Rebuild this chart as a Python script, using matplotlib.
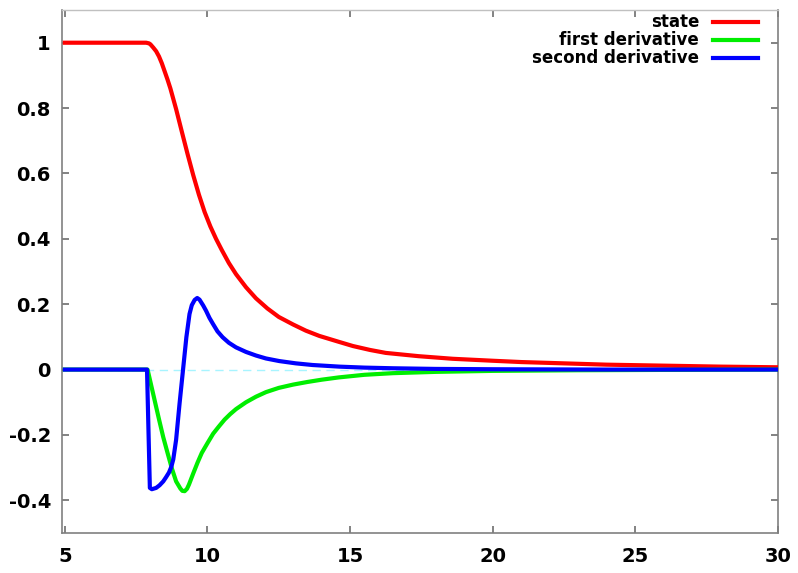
import matplotlib
matplotlib.use('Agg')
import matplotlib.pyplot as plt
from matplotlib.ticker import FuncFormatter

plt.rcParams['font.family'] = ['DejaVu Sans']
plt.rcParams['axes.unicode_minus'] = False

# values
state_t = [5.0, 7.85, 7.95, 8.0, 8.1, 8.2, 8.3, 8.4, 8.5, 8.6, 8.7, 8.9, 9.1,
           9.3, 9.5, 9.7, 9.9, 10.1, 10.3, 10.5, 10.75, 11.0, 11.35, 11.7,
           12.1, 12.5, 13.0, 13.45, 13.92, 14.6, 15.1, 15.7, 16.25, 17.4, 18.6,
           20.0, 21.0, 22.5, 24.0, 26.0, 28.0, 30.0]
state = [1.0, 1.0, 0.998, 0.995, 0.985, 0.974, 0.958, 0.937, 0.912, 0.887,
         0.86, 0.797, 0.728, 0.660, 0.595, 0.535, 0.482, 0.438, 0.400, 0.366,
         0.326, 0.292, 0.252, 0.218, 0.187, 0.161, 0.138, 0.119, 0.103, 0.085,
         0.072, 0.060, 0.051, 0.041, 0.033, 0.027, 0.023, 0.019, 0.015, 0.012,
         0.009, 0.007]

first_t = [5.0, 7.9, 8.0, 8.1, 8.2, 8.3, 8.45, 8.6, 8.75, 8.9, 9.05, 9.12,
           9.2, 9.28, 9.35, 9.5, 9.65, 9.8, 10.0, 10.2, 10.4, 10.6, 10.8, 11.0,
           11.35, 11.7, 12.05, 12.5, 13.0, 13.5, 14.0, 14.6, 15.5, 16.5, 18.0,
           20.0, 23.0, 26.0, 30.0]
first = [0.0, 0.0, -0.038, -0.076, -0.114, -0.152, -0.207, -0.255, -0.302,
         -0.342, -0.364, -0.371, -0.372, -0.365, -0.352, -0.318, -0.285,
         -0.255, -0.225, -0.196, -0.174, -0.153, -0.136, -0.121, -0.100,
         -0.083, -0.069, -0.056, -0.046, -0.038, -0.031, -0.024, -0.016,
         -0.011, -0.007, -0.004, -0.002, -0.001, 0.0]

second_t = [5.0, 7.88, 7.98, 8.05, 8.2, 8.32, 8.45, 8.55, 8.65, 8.73, 8.8,
            8.9, 9.02, 9.14, 9.26, 9.37, 9.45, 9.55, 9.64, 9.72, 9.85, 9.95,
            10.07, 10.19, 10.35, 10.53, 10.75, 11.0, 11.35, 11.7, 12.05,
            12.52, 13.1, 13.68, 14.62, 15.5, 16.5, 18.0, 20.0, 24.0, 30.0]
second = [0.0, 0.0, -0.362, -0.366, -0.362, -0.354, -0.342, -0.329, -0.315,
          -0.298, -0.275, -0.215, -0.105, -0.003, 0.099, 0.170, 0.197, 0.213,
          0.219, 0.214, 0.196, 0.180, 0.158, 0.140, 0.117, 0.099, 0.082,
          0.068, 0.054, 0.043, 0.034, 0.026, 0.019, 0.014, 0.009, 0.006,
          0.004, 0.002, 0.001, 0.0, 0.0]

labels = ['state', 'first derivative', 'second derivative']
colors = ['#ff0000', '#00ee00', '#0000ff']

fig = plt.figure(figsize=(7.98, 5.73), dpi=100)
ax = fig.add_axes([0.0777, 0.0698, 0.8972, 0.9127])

ax.axhline(0, color='#a8f4ff', lw=1.0, ls=(0, (6, 4)), zorder=1)
ax.plot(state_t, state, color=colors[0], lw=3, zorder=3)
ax.plot(first_t, first, color=colors[1], lw=3, zorder=3)
ax.plot(second_t, second, color=colors[2], lw=3, zorder=4)

ax.set_xlim(4.9, 30)
ax.set_ylim(-0.5, 1.1)
ax.set_xticks([5, 10, 15, 20, 25, 30])
ax.set_yticks([-0.4, -0.2, 0, 0.2, 0.4, 0.6, 0.8, 1.0])
ax.yaxis.set_major_formatter(FuncFormatter(lambda v, p: f'{v:g}'))

for s in ['left', 'right', 'bottom']:
    ax.spines[s].set_color('#808080')
    ax.spines[s].set_linewidth(1.2)
ax.spines['top'].set_color('#c0c0c0')
ax.spines['top'].set_linewidth(1.0)

ax.tick_params(direction='in', length=5, width=1.1, color='#606060',
               top=True, right=True, labelsize=14)
ax.tick_params(axis='x', pad=10)
ax.tick_params(axis='y', pad=8)
for t in ax.get_xticklabels() + ax.get_yticklabels():
    t.set_fontweight('bold')

# legend drawn by hand: right-aligned text, sample line on the right
rows = [0.978, 0.943, 0.908]
for lab, c, yy in zip(labels, colors, rows):
    ax.text(0.890, yy, lab, transform=ax.transAxes, ha='right', va='center',
            fontsize=12, fontweight='bold')
    ax.plot([0.909, 0.972], [yy, yy], transform=ax.transAxes, color=c, lw=3)

fig.savefig('out.png', dpi=100)
